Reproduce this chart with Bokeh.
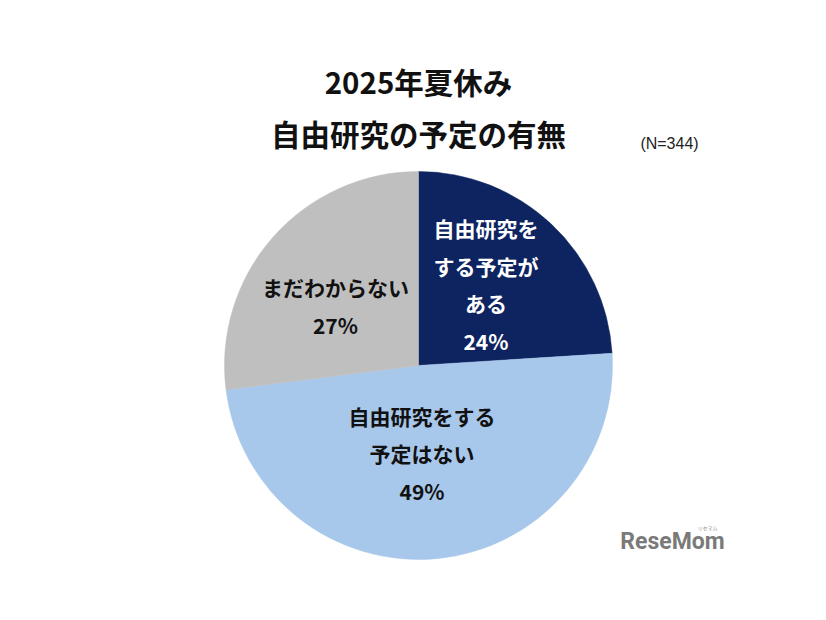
import numpy as np
from bokeh.plotting import figure
from bokeh.models import Range1d
from bokeh.core.properties import value
from bokeh.embed import file_html
from bokeh.resources import INLINE

# ---- data ----
categories = ["自由研究をする予定がある", "自由研究をする予定はない", "まだわからない"]
label_lines = [["自由研究を", "する予定が", "ある"], ["自由研究をする", "予定はない"], ["まだわからない"]]
shares = [24, 49, 27]
colors = ["#0e2460", "#a8c8eb", "#bfbfbf"]
text_colors = ["#ffffff", "#111111", "#111111"]
title_lines = ["2025年夏休み", "自由研究の予定の有無"]
sample_note = "(N=344)"

FONT = "Noto Sans CJK JP"
W, H = 810, 604
p = figure(width=W, height=H, output_backend="svg", toolbar_location=None,
           x_range=Range1d(0, W), y_range=Range1d(620 - H, 620),
           min_border=0)
p.axis.visible = False
p.grid.visible = False
p.outline_line_color = None
p.background_fill_color = "white"
p.border_fill_color = "white"

def Y(sy):
    return 620 - sy

cx, cy, R = 418, Y(365), 194

vals = np.array(shares, dtype=float)
frac = vals / vals.sum()
ends = np.cumsum(frac) * 2 * np.pi
starts = ends - frac * 2 * np.pi
# clockwise from 12 o'clock
start_ang = np.pi / 2 - starts
end_ang = np.pi / 2 - ends
p.wedge(x=cx, y=cy, radius=R, start_angle=start_ang, end_angle=end_ang,
        direction="clock", fill_color=colors, line_color=colors, line_width=0.5)

# labels
rf = [0.53, 0.47, 0.55]
nudge = [(-3, 6), (-5, 3), (-3, -11)]
lh = 37.5
for i in range(len(shares)):
    mid = (starts[i] + ends[i]) / 2
    lx = cx + np.sin(mid) * R * rf[i] + nudge[i][0]
    ly = cy + np.cos(mid) * R * rf[i] + nudge[i][1]
    lines = label_lines[i] + [f"{shares[i]}%"]
    n = len(lines)
    ys = [ly + (n - 1) / 2 * lh - k * lh for k in range(n)]
    p.text(x=[lx] * n, y=ys, text=lines, text_align="center", text_baseline="middle",
           text_font=value(FONT), text_font_size="21px", text_font_style="bold",
           text_color=text_colors[i])

# title
p.text(x=[418, 418], y=[Y(80), Y(132)], text=title_lines, text_align="center",
       text_baseline="middle", text_font=value(FONT), text_font_size="29.5px",
       text_font_style="bold", text_color="#111111")
p.text(x=[669], y=[Y(143)], text=[sample_note], text_align="center", text_baseline="middle",
       text_font=value("Liberation Sans"), text_font_size="16px", text_color="#222222")

# logo
p.text(x=[672], y=[Y(541)], text=["ReseMom"], text_align="center", text_baseline="middle",
       text_font=value("Roboto"), text_font_size="23px", text_font_style="bold",
       text_color="#7a7a7a")
p.text(x=[707], y=[Y(527)], text=["リセマム"], text_align="center", text_baseline="middle",
       text_font=value(FONT), text_font_size="5px", text_color="#888888")

open("out.html", "w").write(file_html(p, INLINE))
